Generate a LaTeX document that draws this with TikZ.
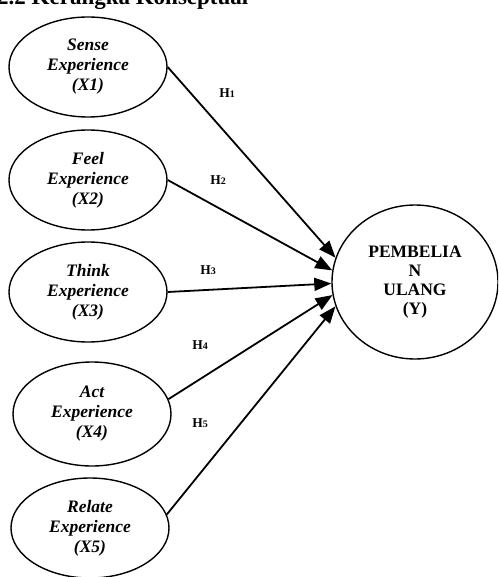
\documentclass[tikz,border=0pt]{standalone}
\usepackage{fontspec}
\setmainfont{Liberation Serif}
\usepackage{tikz}
\usetikzlibrary{shapes.geometric,arrows.meta}

\begin{document}
\begin{tikzpicture}[x=1pt, y=-1pt,
  varbox/.style={ellipse, draw, line width=1.4pt, minimum width=158pt, minimum height=100pt,
    inner sep=0pt, align=center, font=\fontsize{17.5}{20}\selectfont\bfseries\itshape},
  hyp/.style={-{Triangle[length=17pt,width=13pt]}, line width=1.8pt},
  hlabel/.style={font=\fontsize{13.5}{15}\selectfont\bfseries}]
\useasboundingbox (0,0) rectangle (498,577);
\clip (0,0) rectangle (498,577);
% Title (cut at the top)
\node[anchor=base west, inner sep=0pt, font=\fontsize{23}{26}\selectfont\bfseries] (title) at (-3,5) {2.2 Kerangka Konseptual};
% Variables
\node[varbox] (x1) at (88,67) {Sense\\Experience\\(X1)};
\node[varbox] (x2) at (88,180) {Feel\\Experience\\(X2)};
\node[varbox] (x3) at (88,292) {Think\\Experience\\(X3)};
\node[varbox, minimum height=104pt] (x4) at (92,414) {Act\\Experience\\(X4)};
\node[varbox] (x5) at (90,528) {Relate\\Experience\\(X5)};
\node[ellipse, draw, line width=1.4pt, minimum width=166pt, minimum height=154pt, inner sep=0pt,
  align=center, font=\fontsize{17.5}{19}\selectfont\bfseries] (y) at (415,282) {PEMBELIA\\N\\ULANG\\(Y)};
% Paths
\draw[hyp] (x1.east) -- (y.163);
\draw[hyp] (x2.east) -- (y.172);
\draw[hyp] (x3.east) -- (y.181);
\draw[hyp] (x4.11) -- (y.189);
\draw[hyp] (x5.10) -- (y.197);
% Labels
\node[hlabel] (h1) at (227,93) {H{\fontsize{10}{11}\selectfont 1}};
\node[hlabel] (h2) at (218,180) {H{\fontsize{10}{11}\selectfont 2}};
\node[hlabel] (h3) at (208,270) {H{\fontsize{10}{11}\selectfont 3}};
\node[hlabel] (h4) at (200,345) {H{\fontsize{10}{11}\selectfont 4}};
\node[hlabel] (h5) at (200,423) {H{\fontsize{10}{11}\selectfont 5}};
\end{tikzpicture}
\end{document}
